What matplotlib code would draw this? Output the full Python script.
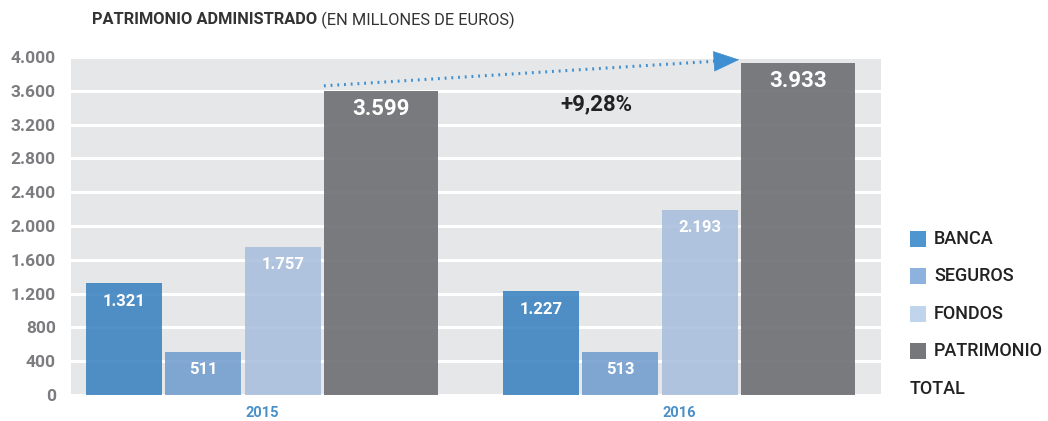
import matplotlib
matplotlib.use("Agg")
import matplotlib.pyplot as plt
from matplotlib.patches import Rectangle, FancyArrowPatch
import numpy as np

plt.rcParams['font.family'] = ['Roboto', 'DejaVu Sans']

# ---- data ----
years = ["2015", "2016"]
series = ["BANCA", "SEGUROS", "FONDOS", "PATRIMONIO"]
banca = [1321, 1227]
seguros = [511, 513]
fondos = [1757, 2193]
patrimonio = [3599, 3933]
value_labels = {
    "BANCA": ["1.321", "1.227"],
    "SEGUROS": ["511", "513"],
    "FONDOS": ["1.757", "2.193"],
    "PATRIMONIO": ["3.599", "3.933"],
}
yticks = [0, 400, 800, 1200, 1600, 2000, 2400, 2800, 3200, 3600, 4000]
ytick_labels = ["0", "400", "800", "1.200", "1.600", "2.000", "2.400",
                "2.800", "3.200", "3.600", "4.000"]
growth_label = "+9,28%"
title_bold = "PATRIMONIO ADMINISTRADO"
title_regular = " (EN MILLONES DE EUROS)"
legend_labels = ["BANCA", "SEGUROS", "FONDOS", "PATRIMONIO"]
legend_extra = "TOTAL"

# ---- style ----
colors = ["#3e85c1", "#749fcf", "#abc0dd", "#6d6e73"]
legend_colors = ["#4f95d0", "#8db2dd", "#c0d4ec", "#76777b"]
offsets = [-0.331, -0.1415, 0.050, 0.285]
widths = [0.182, 0.182, 0.182, 0.273]
label_sizes = [12, 12, 12, 16]
bg = "#e6e7e8"
arrow_color = "#3d8fd1"

fig = plt.figure(figsize=(10.48, 4.21), dpi=100)
ax = fig.add_axes([71 / 1048, 26 / 421, 810 / 1048, 338 / 421])
ax.set_facecolor(bg)
ax.set_xlim(-0.458, 1.4845)
ax.set_ylim(0, 4000)

for s in ax.spines.values():
    s.set_visible(False)
ax.set_yticks(yticks)
ax.set_yticklabels(ytick_labels, fontsize=12.5, fontweight='bold', color='#7c7c80')
ax.tick_params(axis='y', length=0, pad=11)
ax.set_xticks([])
ax.yaxis.grid(True, color='white', linewidth=2.2)
ax.set_axisbelow(True)

x = np.arange(len(years))
data = [banca, seguros, fondos, patrimonio]
for i, (name, vals) in enumerate(zip(series, data)):
    bars = ax.bar(x + offsets[i], vals, width=widths[i], color=colors[i],
                  alpha=0.9, zorder=2, linewidth=0)
    for j, b in enumerate(bars):
        ax.annotate(value_labels[name][j],
                    xy=(b.get_x() + b.get_width() / 2, vals[j]),
                    xytext=(0, -13), textcoords='offset points',
                    ha='center', va='center', color='white',
                    fontsize=label_sizes[i], fontweight='bold', zorder=4)

# year labels
for j, yr in enumerate(years):
    ax.annotate(yr, xy=(x[j], 0), xytext=(0, -13), textcoords='offset points',
                ha='center', va='center', color='#4a90c8', fontsize=10.5,
                fontweight='bold', annotation_clip=False)

# growth arrow: dotted shaft + solid head
px0 = x[0] + offsets[3] - widths[3] / 2
px1 = x[1] + offsets[3] - widths[3] / 2 - 0.004
py0 = patrimonio[0] + 60
py1 = patrimonio[1] + 35
frac = 0.955
mx = px0 + (px1 - px0) * frac
my = py0 + (py1 - py0) * frac
ax.plot([px0, mx], [py0, my], color=arrow_color, linewidth=2.2,
        linestyle=(0, (0.6, 1.6)), dash_capstyle='butt', zorder=5, clip_on=False)
head = FancyArrowPatch((mx, my), (px1, py1),
                       arrowstyle='-|>,head_length=1.25,head_width=0.5',
                       mutation_scale=14, color=arrow_color, linewidth=0.5,
                       zorder=5, clip_on=False, shrinkA=0, shrinkB=0)
ax.add_patch(head)
ax.text(0.803, 3444, growth_label, ha='center', va='center', fontsize=16,
        fontweight='bold', color='#222222', zorder=5)

# title (bold + regular)
t1 = fig.text(92 / 1048, 1 - 20 / 421, title_bold, fontsize=11.8, fontweight='bold',
              color='#333333', ha='left', va='center')
fig.canvas.draw()
bb = t1.get_window_extent(renderer=fig.canvas.get_renderer())
fig.text(bb.x1 / 1048, 1 - 20 / 421, title_regular, fontsize=11.8,
         color='#333333', ha='left', va='center')

# legend
ys = [239, 276, 314, 351]
for lab, c, yy in zip(legend_labels, legend_colors, ys):
    fig.patches.append(Rectangle((910 / 1048, 1 - (yy + 8) / 421), 16 / 1048, 16 / 421,
                                 transform=fig.transFigure, facecolor=c,
                                 edgecolor='none'))
    fig.text(934 / 1048, 1 - yy / 421, lab, fontsize=13, fontweight='medium',
             color='#222222', ha='left', va='center')
fig.text(910 / 1048, 1 - 389 / 421, legend_extra, fontsize=13, fontweight='medium',
         color='#222222', ha='left', va='center')

fig.savefig("out.png", dpi=100)
